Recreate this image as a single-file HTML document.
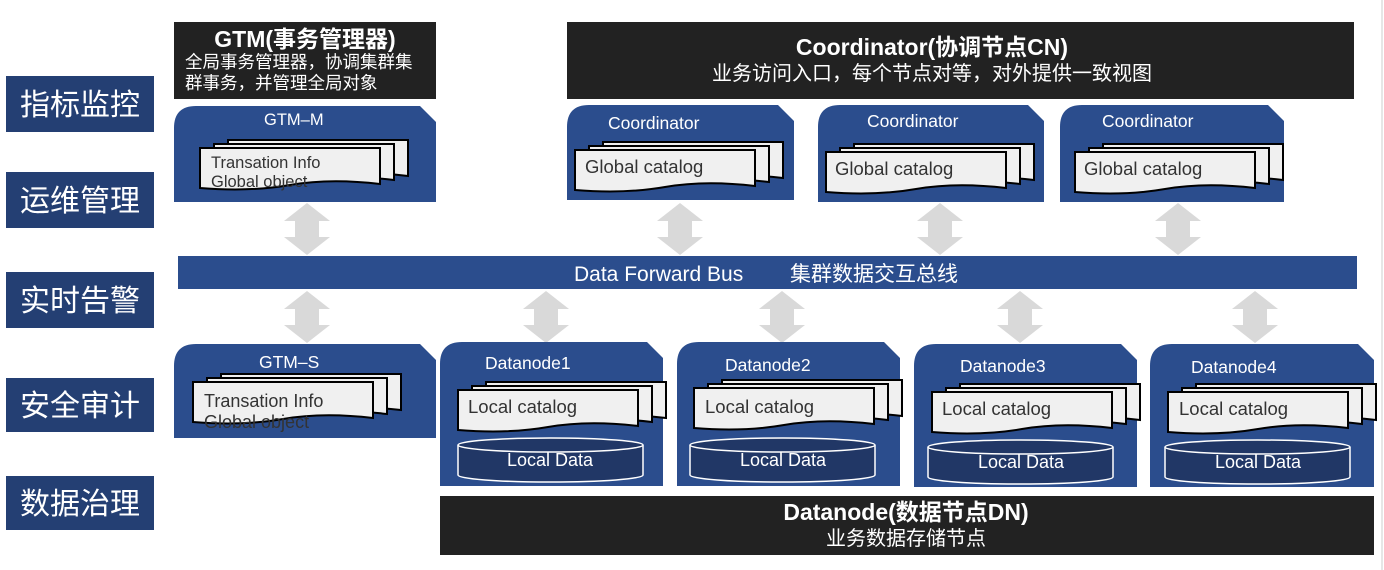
<!DOCTYPE html>
<html><head><meta charset="utf-8"><style>
html,body{margin:0;padding:0;background:#fff;width:1384px;height:570px;overflow:hidden}
text{font-family:"Liberation Sans","Noto Sans CJK SC",sans-serif}
</style></head><body>
<svg width="1384" height="570" viewBox="0 0 1384 570" xmlns="http://www.w3.org/2000/svg">
<defs>
<path id="doc" d="M0,0 H180 V36 Q130,30 90,37 T0,40 Z" fill="#f0f0f0" stroke="#000" stroke-width="2"/>
<g id="stk"><use href="#doc" x="28" y="-8"/><use href="#doc" x="14" y="-4"/><use href="#doc"/></g>
<polygon id="arr" points="0,0 23,18 12,18 12,34 23,34 0,52 -23,34 -12,34 -12,18 -23,18" fill="#d9d9d9"/>
<g id="cyl">
<path d="M0,7 V37 A92,7 0 0 0 185,37 V7" fill="#213766" stroke="#fff" stroke-width="1.5"/>
<ellipse cx="92.5" cy="7" rx="92.5" ry="7" fill="#213766" stroke="#fff" stroke-width="1.5"/>
</g>
</defs>
<line x1="1382" y1="0" x2="1382" y2="570" stroke="#e6e6e6" stroke-width="2"/>
<g fill="#243f73">
<rect x="6" y="76" width="148" height="56"/><rect x="6" y="172" width="148" height="56"/>
<rect x="6" y="272" width="148" height="56"/><rect x="6" y="378" width="148" height="54"/>
<rect x="6" y="476" width="148" height="54"/></g>
<g fill="#fff" font-size="30" text-anchor="middle">
<text x="80" y="115">指标监控</text><text x="80" y="211">运维管理</text>
<text x="80" y="311">实时告警</text><text x="80" y="416">安全审计</text><text x="80" y="514">数据治理</text></g>
<rect x="174" y="22" width="262" height="77" fill="#222"/>
<text x="305" y="47" fill="#fff" font-size="23" font-weight="bold" text-anchor="middle">GTM(事务管理器)</text>
<text x="185" y="68" fill="#fff" font-size="17.5">全局事务管理器，协调集群集</text>
<text x="185" y="89" fill="#fff" font-size="17.5">群事务，并管理全局对象</text>
<rect x="567" y="22" width="787" height="77" fill="#222"/>
<text x="932" y="55" fill="#fff" font-size="23" font-weight="bold" text-anchor="middle">Coordinator(协调节点CN)</text>
<text x="932" y="80" fill="#fff" font-size="20" text-anchor="middle">业务访问入口，每个节点对等，对外提供一致视图</text>
<rect x="440" y="496" width="934" height="59" fill="#222"/>
<text x="906" y="520" fill="#fff" font-size="23" font-weight="bold" text-anchor="middle">Datanode(数据节点DN)</text>
<text x="906" y="545" fill="#fff" font-size="20" text-anchor="middle">业务数据存储节点</text>
<rect x="178" y="256" width="1179" height="33" fill="#2b4d8d"/>
<text x="574" y="281" fill="#fff" font-size="21">Data Forward Bus</text>
<text x="790" y="281" fill="#fff" font-size="21">集群数据交互总线</text>
<use href="#arr" x="307" y="203"/><use href="#arr" x="680" y="203"/><use href="#arr" x="940" y="203"/><use href="#arr" x="1178" y="203"/>
<use href="#arr" x="307" y="291"/><use href="#arr" x="546" y="291"/><use href="#arr" x="782" y="291"/><use href="#arr" x="1020" y="291"/><use href="#arr" x="1255" y="291"/>
<g fill="#2b4d8d">
<path d="M174,202 V128 Q174,106 196,106 H420 L436,122 V202 Z"/>
<path d="M567,200 V127 Q567,105 589,105 H778 L794,121 V200 Z"/>
<path d="M818,202 V127 Q818,105 840,105 H1028 L1044,121 V202 Z"/>
<path d="M1060,202 V127 Q1060,105 1082,105 H1268 L1284,121 V202 Z"/>
<path d="M174,438 V366 Q174,344 196,344 H420 L436,360 V438 Z"/>
<path d="M440,486 V364 Q440,342 462,342 H647 L663,358 V486 Z"/>
<path d="M677,486 V364 Q677,342 699,342 H884 L900,358 V486 Z"/>
<path d="M914,487 V366 Q914,344 936,344 H1121 L1137,360 V487 Z"/>
<path d="M1150,487 V366 Q1150,344 1172,344 H1358 L1374,360 V487 Z"/>
</g>
<g fill="#fff" font-size="17.5">
<text x="264" y="125" font-size="16.5">GTM–M</text>
<text x="608" y="129">Coordinator</text><text x="867" y="127">Coordinator</text><text x="1102" y="127">Coordinator</text>
<text x="259" y="368">GTM–S</text>
<text x="485" y="369">Datanode1</text><text x="725" y="371">Datanode2</text><text x="960" y="372">Datanode3</text><text x="1191" y="373">Datanode4</text>
</g>
<use href="#stk" x="200" y="148"/>
<use href="#stk" x="575" y="150"/><use href="#stk" x="826" y="152"/><use href="#stk" x="1075" y="152"/>
<use href="#stk" x="193" y="382"/>
<use href="#stk" x="458" y="390"/><use href="#stk" x="694" y="388"/><use href="#stk" x="932" y="392"/><use href="#stk" x="1168" y="392"/>
<g fill="#333" font-size="18.5">
<text x="211" y="168" font-size="16.5">Transation Info</text><text x="211" y="187" font-size="16.5">Global object</text>
<text x="585" y="173">Global catalog</text><text x="835" y="175">Global catalog</text><text x="1084" y="175">Global catalog</text>
<text x="204" y="407" font-size="18">Transation Info</text><text x="204" y="428" font-size="18">Global object</text>
<text x="468" y="413">Local catalog</text><text x="705" y="413">Local catalog</text><text x="942" y="415">Local catalog</text><text x="1179" y="415">Local catalog</text>
</g>
<use href="#cyl" x="458" y="438"/><use href="#cyl" x="690" y="438"/><use href="#cyl" x="928" y="440"/><use href="#cyl" x="1165" y="440"/>
<g fill="#fff" font-size="18" text-anchor="middle">
<text x="550" y="466">Local Data</text><text x="783" y="466">Local Data</text><text x="1021" y="468">Local Data</text><text x="1258" y="468">Local Data</text>
</g>
</svg>
</body></html>
